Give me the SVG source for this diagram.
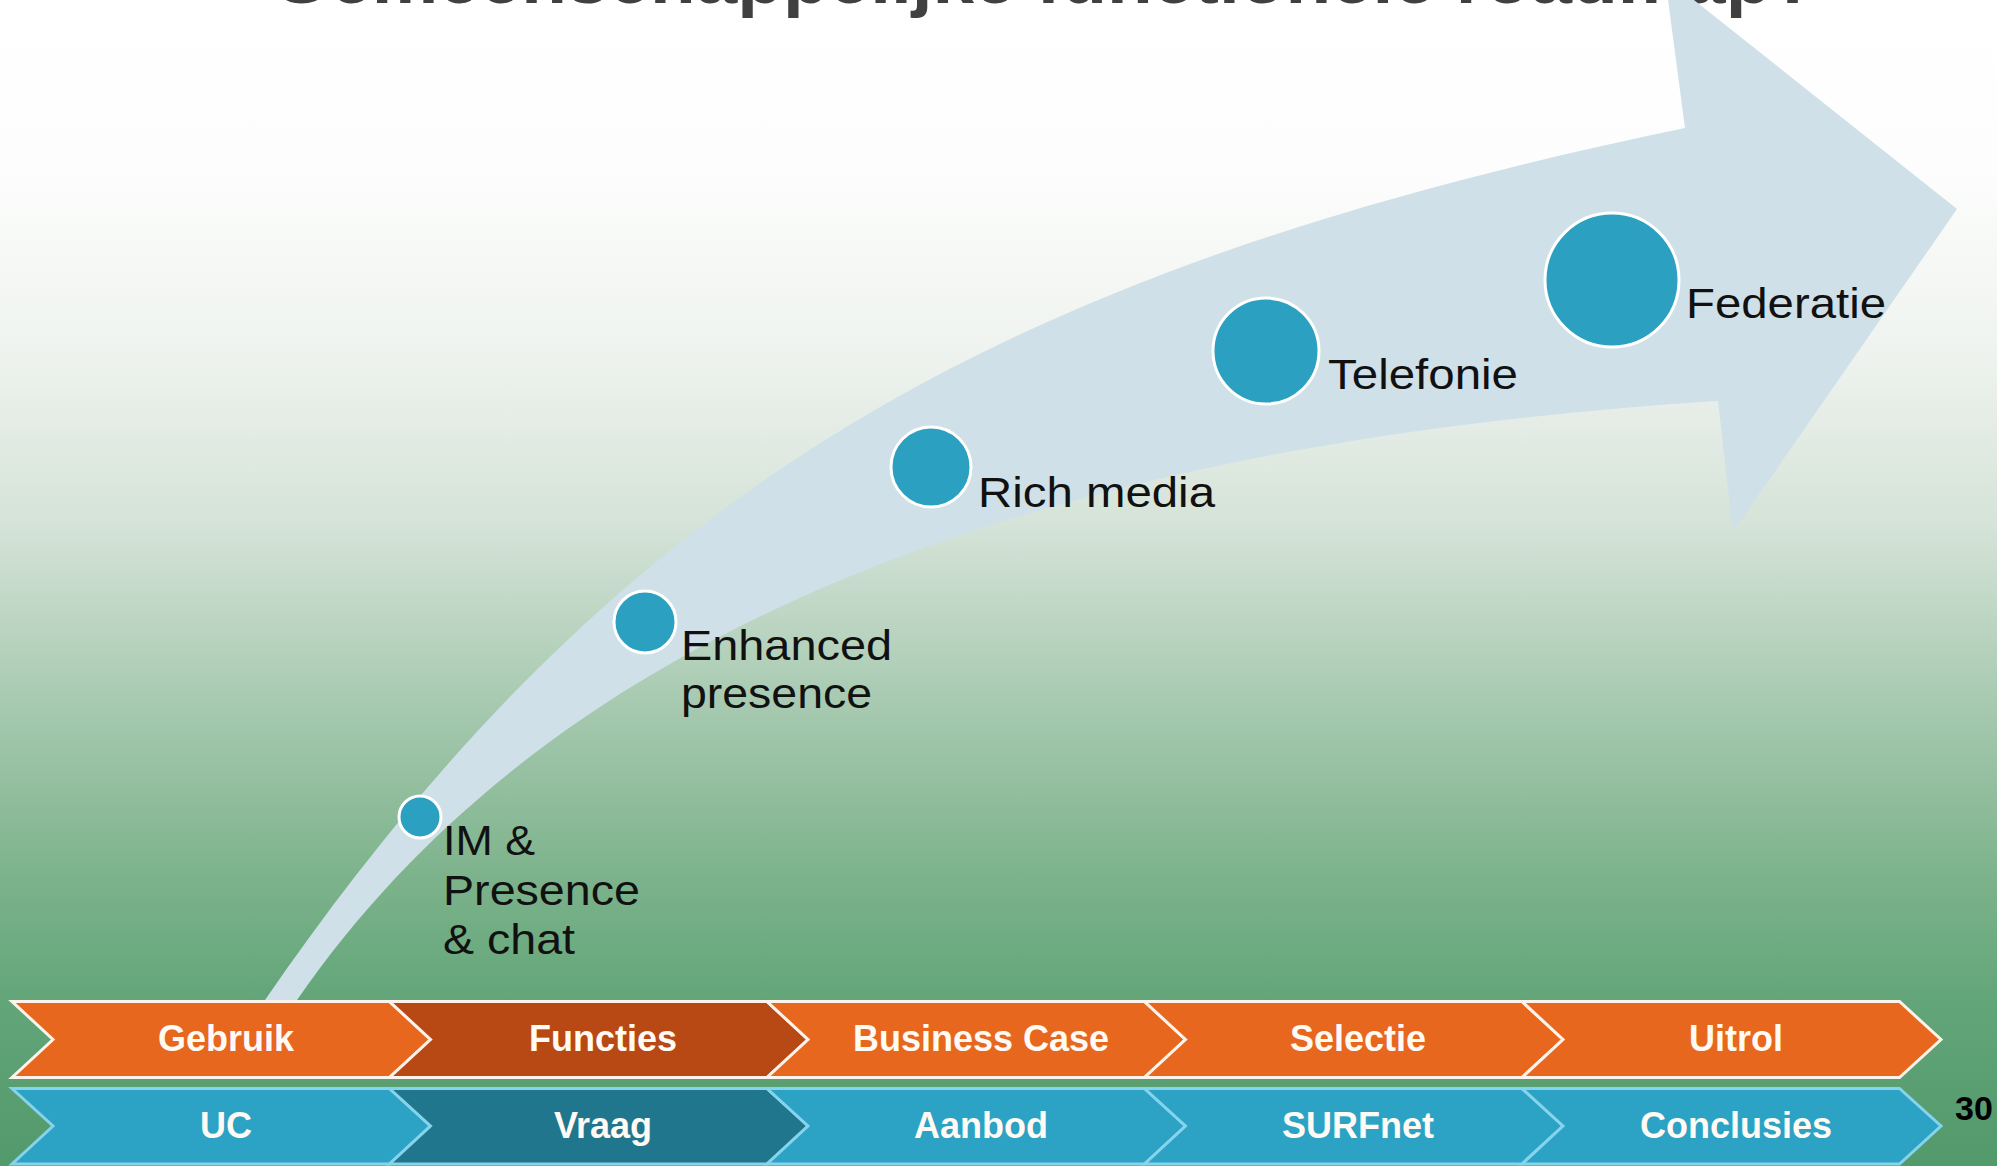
<svg xmlns="http://www.w3.org/2000/svg" width="1997" height="1166" viewBox="0 0 1997 1166">
  <defs>
    <linearGradient id="bg" x1="0" y1="0" x2="0" y2="1">
      <stop offset="0" stop-color="#ffffff"/>
      <stop offset="0.15" stop-color="#fcfdfc"/>
      <stop offset="0.3" stop-color="#eff3ef"/>
      <stop offset="0.45" stop-color="#d5e3d8"/>
      <stop offset="0.6" stop-color="#a8cab1"/>
      <stop offset="0.75" stop-color="#7db38c"/>
      <stop offset="0.86" stop-color="#62a578"/>
      <stop offset="1" stop-color="#52996b"/>
    </linearGradient>
    <style>
      .title { font-family: "Liberation Sans", Arial, sans-serif; font-weight: bold; font-size: 72px; fill: #404040; }
      .lbl { font-family: "Liberation Sans", Arial, sans-serif; font-size: 43px; fill: #111111; }
      .dot { fill: #2ba0c0; stroke: #ffffff; stroke-width: 3; }
      .chevO { fill: #e8671f; stroke: #fdf3ea; stroke-width: 3; }
      .chevOd { fill: #b84814; stroke: #fdf3ea; stroke-width: 3; }
      .chevB { fill: #2ca2c4; stroke: #86d3ec; stroke-width: 3; }
      .chevBd { fill: #20768c; stroke: #86d3ec; stroke-width: 3; }
      .clbl { font-family: "Liberation Sans", Arial, sans-serif; font-weight: bold; font-size: 36px; fill: #fffaf3; text-anchor: middle; }
      .pnum { font-family: "Liberation Sans", Arial, sans-serif; font-weight: bold; font-size: 34px; fill: #000000; }
    </style>
  </defs>

  <rect x="0" y="0" width="1997" height="1166" fill="url(#bg)"/>

  <g id="title">
    <text class="title" x="272" y="3" textLength="1545" lengthAdjust="spacingAndGlyphs">Gemeenschappelijke functionele roadmap?</text>
  </g>

  <g id="roadmap-arrow">
    <path fill="#cfe0e8" d="M265,1003 L265,1000
      C615,492 990,272 1685,128
      L1665,-23 L1957,209 L1733,532 L1718,401
      C1118,439 580,590 297,1000
      L297,1003 Z"/>
  </g>

  <g id="node-im">
    <circle class="dot" cx="420" cy="817" r="21"/>
    <text class="lbl" x="443" y="855" textLength="92" lengthAdjust="spacingAndGlyphs">IM &amp;</text>
    <text class="lbl" x="443" y="905" textLength="197" lengthAdjust="spacingAndGlyphs">Presence</text>
    <text class="lbl" x="443" y="954" textLength="132" lengthAdjust="spacingAndGlyphs">&amp; chat</text>
  </g>
  <g id="node-enhanced">
    <circle class="dot" cx="645" cy="622" r="31"/>
    <text class="lbl" x="681" y="660" textLength="211" lengthAdjust="spacingAndGlyphs">Enhanced</text>
    <text class="lbl" x="681" y="708" textLength="191" lengthAdjust="spacingAndGlyphs">presence</text>
  </g>
  <g id="node-rich">
    <circle class="dot" cx="931" cy="467" r="40"/>
    <text class="lbl" x="978" y="507" textLength="237" lengthAdjust="spacingAndGlyphs">Rich media</text>
  </g>
  <g id="node-telefonie">
    <circle class="dot" cx="1266" cy="351" r="53"/>
    <text class="lbl" x="1328" y="389" textLength="190" lengthAdjust="spacingAndGlyphs">Telefonie</text>
  </g>
  <g id="node-federatie">
    <circle class="dot" cx="1612" cy="280" r="67"/>
    <text class="lbl" x="1686" y="318" textLength="200" lengthAdjust="spacingAndGlyphs">Federatie</text>
  </g>

  <g id="chevrons-top">
    <g id="chev-gebruik">
      <polygon class="chevO" points="12,1001.5 389.5,1001.5 430.5,1039.5 389.5,1077.5 12,1077.5 53,1039.5"/>
      <text class="clbl" x="226" y="1051">Gebruik</text>
    </g>
    <g id="chev-functies">
      <polygon class="chevOd" points="389.5,1001.5 767,1001.5 808,1039.5 767,1077.5 389.5,1077.5 430.5,1039.5"/>
      <text class="clbl" x="603" y="1051">Functies</text>
    </g>
    <g id="chev-business">
      <polygon class="chevO" points="767,1001.5 1144.5,1001.5 1185.5,1039.5 1144.5,1077.5 767,1077.5 808,1039.5"/>
      <text class="clbl" x="981" y="1051">Business Case</text>
    </g>
    <g id="chev-selectie">
      <polygon class="chevO" points="1144.5,1001.5 1522,1001.5 1563,1039.5 1522,1077.5 1144.5,1077.5 1185.5,1039.5"/>
      <text class="clbl" x="1358" y="1051">Selectie</text>
    </g>
    <g id="chev-uitrol">
      <polygon class="chevO" points="1522,1001.5 1899.5,1001.5 1941,1039.5 1899.5,1077.5 1522,1077.5 1563,1039.5"/>
      <text class="clbl" x="1736" y="1051">Uitrol</text>
    </g>
  </g>

  <g id="chevrons-bottom">
    <g id="chev-uc">
      <polygon class="chevB" points="12,1088.5 389.5,1088.5 430.5,1126 389.5,1164 12,1164 53,1126"/>
      <text class="clbl" x="226" y="1138">UC</text>
    </g>
    <g id="chev-vraag">
      <polygon class="chevBd" points="389.5,1088.5 767,1088.5 808,1126 767,1164 389.5,1164 430.5,1126"/>
      <text class="clbl" x="603" y="1138">Vraag</text>
    </g>
    <g id="chev-aanbod">
      <polygon class="chevB" points="767,1088.5 1144.5,1088.5 1185.5,1126 1144.5,1164 767,1164 808,1126"/>
      <text class="clbl" x="981" y="1138">Aanbod</text>
    </g>
    <g id="chev-surfnet">
      <polygon class="chevB" points="1144.5,1088.5 1522,1088.5 1563,1126 1522,1164 1144.5,1164 1185.5,1126"/>
      <text class="clbl" x="1358" y="1138">SURFnet</text>
    </g>
    <g id="chev-conclusies">
      <polygon class="chevB" points="1522,1088.5 1899.5,1088.5 1941,1126 1899.5,1164 1522,1164 1563,1126"/>
      <text class="clbl" x="1736" y="1138">Conclusies</text>
    </g>
  </g>

  <g id="connectors"></g>

  <g id="page-number">
    <text class="pnum" x="1955" y="1120">30</text>
  </g>
</svg>
